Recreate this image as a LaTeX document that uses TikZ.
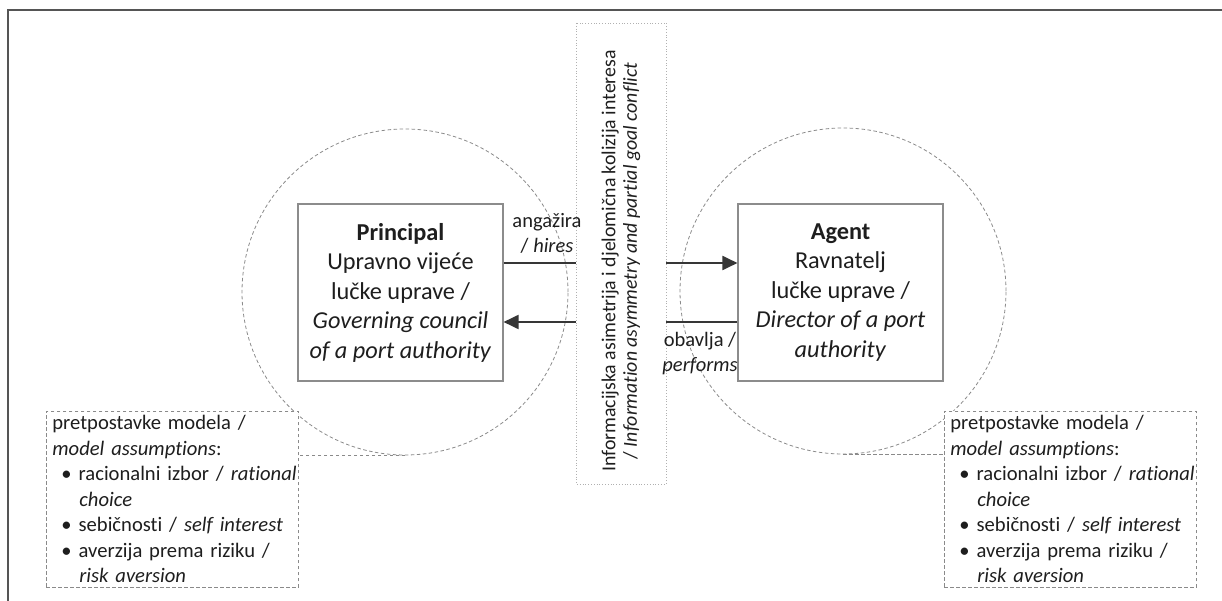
\documentclass[tikz,border=0pt]{standalone}
\usepackage{fontspec}
\setmainfont{Carlito}[Ligatures=NoCommon]
\usetikzlibrary{arrows.meta}
\definecolor{txt}{HTML}{1E1E1E}
\definecolor{linec}{HTML}{363636}
\definecolor{boxc}{HTML}{8C8C8C}
\definecolor{dashc}{HTML}{8A8A8A}
\definecolor{dotc}{HTML}{B0B0B0}
\definecolor{framec}{HTML}{555555}
\newcommand{\bul}[1]{\mbox{\hspace*{9pt}\textbullet\hspace{7pt}#1}}
\newcommand{\cont}[1]{\mbox{\hspace*{27pt}#1}}
\begin{document}
\begin{tikzpicture}[x=1pt,y=-1pt,
  every node/.style={text=txt},
  mainbox/.style={draw=boxc, line width=1.1pt, minimum width=205pt, minimum height=177pt,
    align=center, font=\fontsize{24.3}{29.5}\selectfont, inner sep=0pt},
  ring/.style={circle, draw=dashc, line width=0.8pt, dash pattern=on 3.5pt off 2.5pt, minimum size=326pt, inner sep=0pt},
  abox/.style={draw=dashc, line width=0.8pt, dash pattern=on 3.5pt off 2.5pt, text width=240pt, inner xsep=6pt, inner ysep=0pt,
    minimum height=176pt, align=left, font=\fontsize{20.6}{25.5}\selectfont, anchor=north west},
  midbox/.style={draw=dotc, line width=0.8pt, dotted, rotate=90, minimum width=461pt, minimum height=90pt,
    align=center, font=\fontsize{19.8}{21.5}\selectfont, inner sep=0pt},
  lbl/.style={align=center, font=\fontsize{20.5}{25}\selectfont, inner sep=0pt},
  conn/.style={draw=linec, line width=1.9pt},
  arr/.style={conn, -{Triangle[length=15pt,width=14pt]}},
  link/.style={draw=dashc, line width=0.8pt, dash pattern=on 3.5pt off 2.5pt}
]
\useasboundingbox (0,0) rectangle (1222,601);
\draw[framec, line width=1.6pt] (8,601) -- (8,10) -- (1222,10);

% circles
\node[ring] (lcirc) at (405,292) {};
\node[ring] (rcirc) at (843,291) {};

% central box
\node[midbox] (mid) at (621,253.5) {Informacijska asimetrija i djelomična kolizija interesa\hspace*{15pt}\\/ \textit{Information asymmetry and partial goal conflict}\hspace*{15pt}};

% main boxes
\node[mainbox, fill=white] (princ) at (400.5,292.5) {\textbf{Principal}\\Upravno vijeće\\lučke uprave /\\\textit{Governing council}\\\textit{of a port authority}};
\node[mainbox, fill=white] (agent) at (840.5,292.5) {\textbf{Agent}\\Ravnatelj\\lučke uprave /\\\textit{Director of a port}\\\textit{authority}};

% assumption boxes
\node[abox, fill=white] (lbox) at (46,411) {pretpostavke modela /\\\textit{model assumptions}:\\\bul{racionalni izbor / \textit{rational}}\\\cont{\textit{choice}}\\\bul{sebičnosti / \textit{self interest}}\\\bul{averzija prema riziku /}\\\cont{\textit{risk aversion}}};
\node[abox, fill=white] (rbox) at (944,411) {pretpostavke modela /\\\textit{model assumptions}:\\\bul{racionalni izbor / \textit{rational}}\\\cont{\textit{choice}}\\\bul{sebičnosti / \textit{self interest}}\\\bul{averzija prema riziku /}\\\cont{\textit{risk aversion}}};

% links from boxes to circles
\draw[link] (lcirc.south) -- (lcirc.south -| lbox.east);
\draw[link] (rcirc.south) -- (rcirc.south -| rbox.west);

% connectors
\coordinate (h1) at ([yshift=29.5pt]princ.east);
\coordinate (h2) at ([yshift=29.5pt]agent.west);
\coordinate (p1) at ([yshift=-29.5pt]agent.west);
\coordinate (p2) at ([yshift=-29.5pt]princ.east);
\draw[conn] (h1) -- (h1 -| mid.north);
\draw[arr] (h2 -| mid.south) -- (h2);
\draw[conn] (p1) -- (p1 -| mid.south);
\draw[arr] (p2 -| mid.north) -- (p2);

% labels
\node[lbl] (hireslbl) at (547,233) {angažira\\/ \textit{hires}};
\node[lbl] (perflbl) at (700,354) {obavlja /\\\textit{performs}};
\end{tikzpicture}
\end{document}
